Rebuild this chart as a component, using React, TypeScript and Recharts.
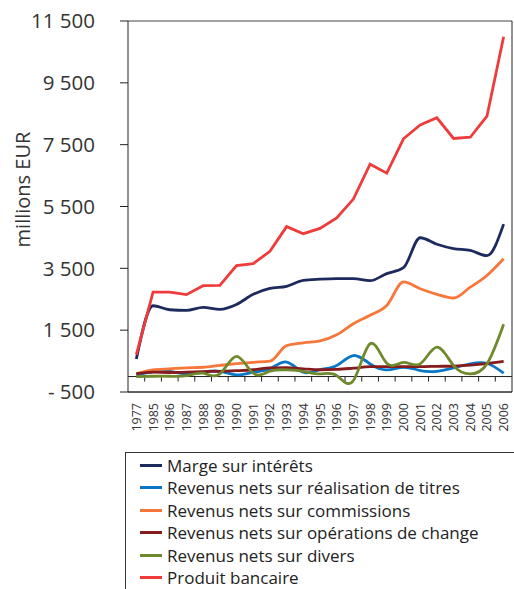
import React from 'react';
import { LineChart, Line, XAxis, YAxis, CartesianGrid, ReferenceLine } from 'recharts';

const years = [
  '1977', '1985', '1986', '1987', '1988', '1989', '1990', '1991', '1992', '1993', '1994', '1995',
  '1996', '1997', '1998', '1999', '2000', '2001', '2002', '2003', '2004', '2005', '2006',
];

const margeInterets = [570, 2290, 2160, 2140, 2240, 2170, 2330, 2660, 2850, 2920, 3110, 3150, 3170, 3170, 3100, 3330, 3520, 4490, 4280, 4140, 4080, 3910, 4930];
const realisationTitres = [55, 150, 170, 85, 140, 170, 55, 140, 250, 470, 140, 220, 355, 680, 410, 216, 300, 195, 170, 280, 410, 430, 107];
const commissions = [90, 216, 250, 280, 300, 360, 415, 460, 500, 1000, 1090, 1150, 1350, 1710, 1980, 2300, 3060, 2840, 2660, 2540, 2890, 3270, 3810];
const operationsChange = [90, 140, 130, 140, 160, 170, 190, 220, 280, 290, 250, 220, 230, 270, 320, 320, 320, 320, 330, 340, 370, 420, 490];
const divers = [0, 10, 10, 30, 107, 85, 650, 107, 170, 216, 170, 85, 30, -130, 1060, 430, 460, 410, 950, 356, 85, 410, 1690];
const produitBancaire = [710, 2730, 2730, 2650, 2940, 2950, 3590, 3650, 4050, 4850, 4620, 4790, 5130, 5740, 6870, 6580, 7690, 8140, 8370, 7700, 7740, 8420, 10990];

const yTicks = [-500, 1500, 3500, 5500, 7500, 9500, 11500];
const yTickLabels = ['- 500', '1 500', '3 500', '5 500', '7 500', '9 500', '11 500'];

const series = [
  { key: 'marge', name: 'Marge sur intérêts', color: '#1d2a5e', values: margeInterets, curve: 'monotone' },
  { key: 'titres', name: 'Revenus nets sur réalisation de titres', color: '#0a76c6', values: realisationTitres, curve: 'natural' },
  { key: 'commissions', name: 'Revenus nets sur commissions', color: '#f7773a', values: commissions, curve: 'monotone' },
  { key: 'change', name: 'Revenus nets sur opérations de change', color: '#861b1e', values: operationsChange, curve: 'monotone' },
  { key: 'divers', name: 'Revenus nets sur divers', color: '#6f8a2c', values: divers, curve: 'natural' },
  { key: 'produit', name: 'Produit bancaire', color: '#ef3b3b', values: produitBancaire, curve: 'linear' },
];

const data = years.map((year, i) => {
  const row: Record<string, string | number> = { year };
  series.forEach(s => { row[s.key] = s.values[i]; });
  return row;
});

const FONT = '"Open Sans", sans-serif';

// horizontal axis at zero, with tick marks between categories
const ZeroAxis = (props: any) => {
  const { x1, x2, y1 } = props;
  const band = (x2 - x1) / years.length;
  return (
    <g>
      <line x1={x1} x2={x2} y1={y1} y2={y1} stroke="#222" strokeWidth={1} />
      {years.slice(1).map((_, i) => (
        <line key={i} x1={x1 + (i + 1) * band} x2={x1 + (i + 1) * band} y1={y1} y2={y1 + 5} stroke="#222" strokeWidth={1} />
      ))}
    </g>
  );
};

const YearTick = (props: any) => {
  const { x, y, payload } = props;
  return (
    <text x={x} y={y} transform={`rotate(-90, ${x}, ${y})`} textAnchor="end" dominantBaseline="central"
      fontFamily={FONT} fontSize={12.5} fill="#333">
      {payload.value}
    </text>
  );
};

const App: React.FC = () => {
  return (
    <div style={{ position: 'absolute', left: 0, top: 0, width: 514, height: 589, overflow: 'hidden', background: '#fff' }}>
      <LineChart width={514} height={440} data={data} margin={{ top: 21, right: 0, bottom: 3, left: 0 }}>
        <CartesianGrid vertical={false} stroke="#444" strokeWidth={1} />
        <XAxis dataKey="year" interval={0} padding={{ left: 8.35, right: 8.35 }} tickLine={false} tickSize={0} tickMargin={11}
          axisLine={{ stroke: '#222' }} height={45} tick={<YearTick />} />
        <YAxis yAxisId="left" domain={[-500, 11500]} ticks={yTicks} width={128} interval={0}
          tickFormatter={(v: number) => yTickLabels[yTicks.indexOf(v)]}
          tickSize={8} tickMargin={25} tickLine={{ stroke: '#222' }} axisLine={{ stroke: '#222' }}
          tick={{ fontFamily: FONT, fontSize: 20.5, fill: '#333' }}
          label={{
            content: (p: any) => {
              const vb = p.viewBox;
              const cx = 22;
              const cy = vb.y + vb.height / 2 - 17;
              return (
                <text x={cx} y={cy} transform={`rotate(-90, ${cx}, ${cy})`} textAnchor="middle" dominantBaseline="central"
                  fontFamily={FONT} fontSize={20} fill="#333">
                  millions EUR
                </text>
              );
            },
          }} />
        <YAxis yAxisId="right" orientation="right" domain={[-500, 11500]} ticks={[]} width={2} tick={false} tickLine={false}
          axisLine={{ stroke: '#222' }} />
        <ReferenceLine yAxisId="left" y={0} shape={ZeroAxis} />
        {series.map(s => (
          <Line key={s.key} yAxisId="left" dataKey={s.key} name={s.name} type={s.curve as any} stroke={s.color}
            strokeWidth={2.8} dot={false} isAnimationActive={false} />
        ))}
      </LineChart>
      <div style={{ position: 'absolute', left: 125, top: 452, width: 420, height: 160, border: '1px solid #333',
        fontFamily: FONT, fontSize: 17, color: '#222', boxSizing: 'border-box', paddingTop: 1 }}>
        {series.map(s => (
          <div key={s.key} style={{ display: 'flex', alignItems: 'center', height: 22.5, whiteSpace: 'nowrap' }}>
            <span style={{ display: 'inline-block', width: 22, height: 3, background: s.color, marginLeft: 14, marginRight: 5 }} />
            <span>{s.name}</span>
          </div>
        ))}
      </div>
    </div>
  );
};

export default App;
